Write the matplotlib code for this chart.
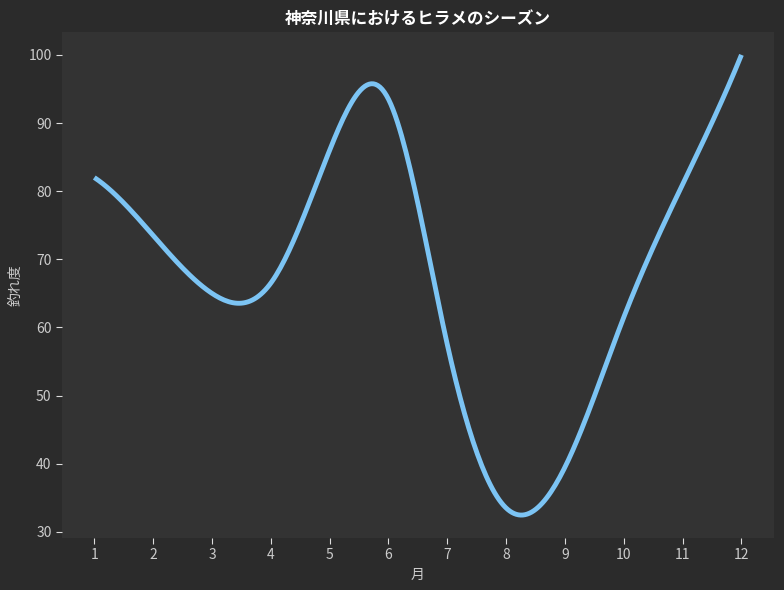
import numpy as np
import matplotlib
matplotlib.use('Agg')
import matplotlib.pyplot as plt

plt.rcParams['font.family'] = ['Noto Sans CJK JP', 'DejaVu Sans']

months = [1, 2, 3, 4, 5, 6, 7, 8, 9, 10, 11, 12]
catch_rate = [82, 73.5, 65, 66.5, 86, 93.5, 57.5, 33.5, 39.5, 61.5, 81, 100]


def smooth(x, y, num=300):
    # not-a-knot cubic spline, evenly spaced knots
    x = np.asarray(x, float)
    y = np.asarray(y, float)
    n = len(x)
    h = x[1] - x[0]
    A = np.zeros((n, n))
    b = np.zeros(n)
    A[0, :3] = [1, -2, 1]
    A[-1, -3:] = [1, -2, 1]
    for i in range(1, n - 1):
        A[i, i - 1:i + 2] = [1, 4, 1]
        b[i] = 6 * (y[i + 1] - 2 * y[i] + y[i - 1]) / h ** 2
    m = np.linalg.solve(A, b)
    xs = np.linspace(x[0], x[-1], num)
    idx = np.clip(((xs - x[0]) // h).astype(int), 0, n - 2)
    a = x[idx + 1] - xs
    c = xs - x[idx]
    ys = (m[idx] * a ** 3 + m[idx + 1] * c ** 3) / (6 * h) \
        + (y[idx] / h - m[idx] * h / 6) * a + (y[idx + 1] / h - m[idx + 1] * h / 6) * c
    return xs, ys


fig = plt.figure(figsize=(7.84, 5.9), dpi=100, facecolor='#2b2b2b')
ax = fig.add_axes([0.079, 0.088, 0.908, 0.858])
ax.set_facecolor('#333333')

xs, ys = smooth(months, catch_rate)
ax.plot(xs, ys, color='#7cc4f4', linewidth=3.5, solid_capstyle='butt')

for s in ax.spines.values():
    s.set_visible(False)
ax.set_xticks(months)
ax.tick_params(colors='#dddddd', labelcolor='#cccccc', labelsize=10, length=4)
ax.set_title('神奈川県におけるヒラメのシーズン', color='white', fontsize=12, fontweight='bold', pad=6)
ax.set_xlabel('月', color='#cccccc', fontsize=10)
ax.set_ylabel('釣れ度', color='#cccccc', fontsize=10)

fig.savefig('out.png', dpi=100, facecolor=fig.get_facecolor())
